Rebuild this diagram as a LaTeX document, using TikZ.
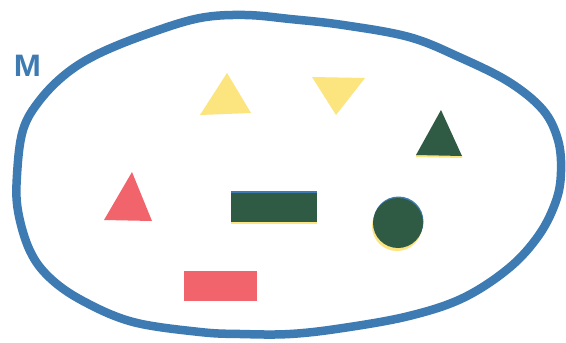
\documentclass[tikz,border=0pt]{standalone}
\usepackage{fontspec}
\setmainfont{Liberation Sans}
\begin{document}
\begin{tikzpicture}[x=1pt,y=-1pt,
  loopline/.style={draw=setblue,line width=8.5pt,line join=round},
  yshape/.style={fill=shyellow},
  gshape/.style={fill=shgreen},
  rshape/.style={fill=shred}]
\definecolor{setblue}{HTML}{3E7BB3}
\definecolor{shyellow}{HTML}{FCE47E}
\definecolor{shgreen}{HTML}{2F5B44}
\definecolor{shred}{HTML}{F2646C}
\useasboundingbox[fill=white] (0,0) rectangle (566,343);
% set loop
\draw[loopline] plot[smooth cycle,tension=0.6] coordinates {
 (17,175) (23,130) (40,100) (67,73) (100,53) (150,33) (200,18) (245,15)
 (290,19) (343,25) (409,37) (459,57) (509,82) (543,110) (558,140) (561,172)
 (556,201) (539,235) (509,268) (463,298) (409,316) (343,328) (290,334)
 (240,334) (200,332) (133,322) (83,301) (50,278) (30,251) (18,211)};
\node[text=setblue,font=\bfseries\fontsize{31}{31}\selectfont,inner sep=0pt,xscale=1.05] (mlabel) at (27.5,66) {M};
% yellow up triangle
\fill[yshape] (227,73) -- (200,115) -- (251,113) -- cycle;
% yellow down triangle
\fill[yshape] (312,77) -- (365,78) -- (336,115) -- cycle;
% green triangle with yellow edge
\fill[yshape] (416,154) -- (462,155) -- (462,158) -- (416,157) -- cycle;
\fill[gshape] (441,110) -- (416,155) -- (462,156) -- cycle;
% red triangle
\fill[rshape] (132,172) -- (104,220) -- (152,221) -- cycle;
% green rectangle
\fill[yshape] (231,219) rectangle (317,224);
\fill[setblue] (231,191) rectangle (317,195);
\fill[gshape] (231,193) rectangle (317,222);
% green circle
\fill[shyellow] (397,226) circle (25);
\fill[setblue] (398.5,221.5) circle (25);
\fill[gshape] (398,223) circle (25);
% pink rectangle
\fill[rshape] (184,271) rectangle (257,301);
\end{tikzpicture}
\end{document}
